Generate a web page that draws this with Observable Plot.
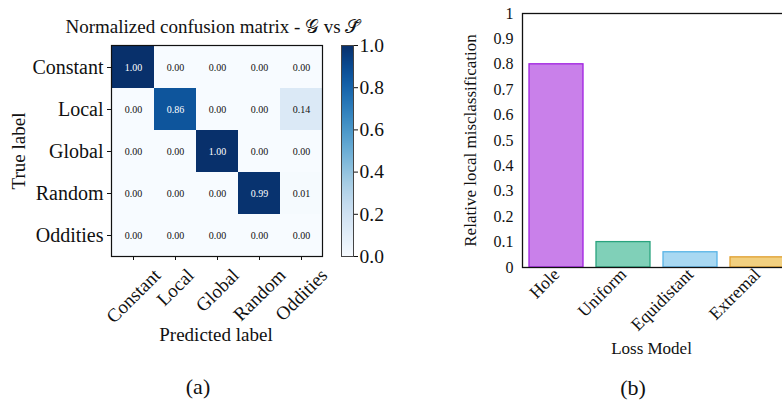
<!DOCTYPE html>
<html><head><meta charset="utf-8">
<script src="https://cdn.jsdelivr.net/npm/d3@7"></script>
<script src="https://cdn.jsdelivr.net/npm/@observablehq/plot@0.6"></script>
<style>
body{margin:0;background:#fff;}
#wrap{position:relative;width:782px;height:401px;overflow:hidden;font-family:"Liberation Serif",serif;color:#111;}
#wrap svg{position:absolute;top:0;}
#wrap svg text{font-family:"Liberation Serif",serif;}
.cap{position:absolute;font-size:22px;transform:translate(-50%,-50%);white-space:nowrap;line-height:1;}
</style></head><body><div id="wrap"></div>
<script>
// ---- data (a) ----
const labels = ["Constant", "Local", "Global", "Random", "Oddities"];
const matrix = [
  [1.00, 0.00, 0.00, 0.00, 0.00],
  [0.00, 0.86, 0.00, 0.00, 0.14],
  [0.00, 0.00, 1.00, 0.00, 0.00],
  [0.00, 0.00, 0.00, 0.99, 0.01],
  [0.00, 0.00, 0.00, 0.00, 0.00]
];
const cbTicks = [0, 0.2, 0.4, 0.6, 0.8, 1.0];
// ---- data (b) ----
const lossModels = ["Hole", "Uniform", "Equidistant", "Extremal"];
const misclass = [0.80, 0.10, 0.06, 0.04];
const yTicks = [0, 0.1, 0.2, 0.3, 0.4, 0.5, 0.6, 0.7, 0.8, 0.9, 1];
const yTickLabels = ["0", "0.1", "0.2", "0.3", "0.4", "0.5", "0.6", "0.7", "0.8", "0.9", "1"];

// ---- styles ----
const barFill = ["#c980ea", "#80d0b8", "#a8d8f2", "#f2d080"];
const barStroke = ["#a020e0", "#2aa37e", "#58b4e6", "#e0a030"];
const FONT = "Liberation Serif";
const FF = '"Liberation Serif", serif';
const baseStyle = {fontFamily: FF, color: "#111", background: "transparent", overflow: "visible"};
const wrap = document.getElementById("wrap");

// ---- panel (a) ----
const cells = [];
labels.forEach((t, i) => labels.forEach((p, j) => cells.push({true: t, pred: p, value: matrix[i][j]})));
const ctx = document.createElement("canvas").getContext("2d");
const xtSize = 19;
ctx.font = `${xtSize}px "${FONT}"`;
const xTickLabelMarks = labels.map(l => Plot.text([l], {
  x: d => d, text: d => d, frameAnchor: "bottom", rotate: -45,
  textAnchor: "middle", lineAnchor: "middle", fontSize: xtSize, fontFamily: FF,
  dy: 11 + (ctx.measureText(l).width + 0.7 * xtSize) / (2 * Math.SQRT2)
}));

const plotA = Plot.plot({
  width: 330, height: 401,
  marginLeft: 111, marginTop: 45, marginRight: 8, marginBottom: 145,
  x: {domain: labels, padding: 0},
  y: {domain: labels, padding: 0},
  color: {type: "linear", scheme: "blues", domain: [0, 1]},
  style: baseStyle,
  marks: [
    Plot.cell(cells, {x: "pred", y: "true", fill: "value", inset: 0}),
    Plot.text(cells, {x: "pred", y: "true", text: d => d.value.toFixed(2),
      fill: d => d.value > 0.5 ? "white" : "#111", fontSize: 10, fontFamily: FF}),
    Plot.frame({stroke: "#111", strokeWidth: 1.2}),
    Plot.axisY({tickSize: 4, tickPadding: 4, fontSize: 20, fontFamily: FF, label: null}),
    Plot.axisX({tickSize: 4, tickFormat: () => "", label: null}),
    ...xTickLabelMarks,
    Plot.text(["True label"], {text: d => d, frameAnchor: "left", textAnchor: "middle", dx: -93, rotate: -90, fontSize: 19, fontFamily: FF}),
    Plot.text(["Predicted label"], {text: d => d, frameAnchor: "bottom", dy: 84, dx: -1, fontSize: 19, fontFamily: FF}),
    Plot.text(["Normalized confusion matrix - 𝒢 vs 𝒮̃"], {text: d => d, frameAnchor: "top", dy: -26, dx: -4, fontSize: 19, fontFamily: FF})
  ]
});
plotA.style.left = "0px";
wrap.appendChild(plotA);

// ---- colorbar ----
const plotC = Plot.plot({
  width: 70, height: 401,
  marginLeft: 11, marginRight: 47, marginTop: 45, marginBottom: 145,
  x: {domain: [0, 1], axis: null},
  y: {domain: [0, 1]},
  color: {type: "linear", scheme: "blues", domain: [0, 1]},
  style: baseStyle,
  marks: [
    Plot.raster({x1: 0, x2: 1, y1: 0, y2: 1, fill: (x, y) => y, width: 2, height: 211}),
    Plot.frame({stroke: "#444", strokeWidth: 1}),
    Plot.axisY({anchor: "right", ticks: cbTicks, tickFormat: d3.format(".1f"), tickSize: 4, tickPadding: 2, fontSize: 19.5, fontFamily: FF, label: null})
  ]
});
plotC.style.left = "330px";
wrap.appendChild(plotC);

// ---- panel (b) ----
const bars = lossModels.map((m, i) => ({model: m, value: misclass[i]}));
const plotB = Plot.plot({
  width: 371, height: 401,
  marginLeft: 92, marginRight: 10, marginTop: 13, marginBottom: 134,
  x: {domain: lossModels, paddingInner: 0.19, paddingOuter: 0.074},
  y: {domain: [0, 1]},
  style: baseStyle,
  marks: [
    Plot.barY(bars, {x: "model", y: "value",
      fill: d => barFill[lossModels.indexOf(d.model)],
      stroke: d => barStroke[lossModels.indexOf(d.model)], strokeWidth: 1.3}),
    Plot.frame({stroke: "#111", strokeWidth: 1.3}),
    Plot.axisY({ticks: yTicks, tickFormat: (d, i) => yTickLabels[i], tickSize: 0, tickPadding: 9, fontSize: 16, fontFamily: FF, label: null}),
    Plot.axisX({tickRotate: -45, tickSize: 0, tickPadding: 4, fontSize: 17.5, fontFamily: FF, label: null}),
    Plot.text(["Relative local misclassification"], {text: d => d, frameAnchor: "left", textAnchor: "middle", dx: -52, rotate: -90, fontSize: 17, fontFamily: FF}),
    Plot.text(["Loss Model"], {text: d => d, frameAnchor: "bottom", dy: 86, dx: -5.5, fontSize: 17, fontFamily: FF})
  ]
});
plotB.style.left = "430px";
wrap.appendChild(plotB);

// ---- captions ----
[["(a)", 198, 387], ["(b)", 633, 388]].forEach(([t, x, y]) => {
  const d = document.createElement("div");
  d.className = "cap"; d.textContent = t;
  d.style.left = x + "px"; d.style.top = y + "px";
  wrap.appendChild(d);
});
</script>
</body></html>
